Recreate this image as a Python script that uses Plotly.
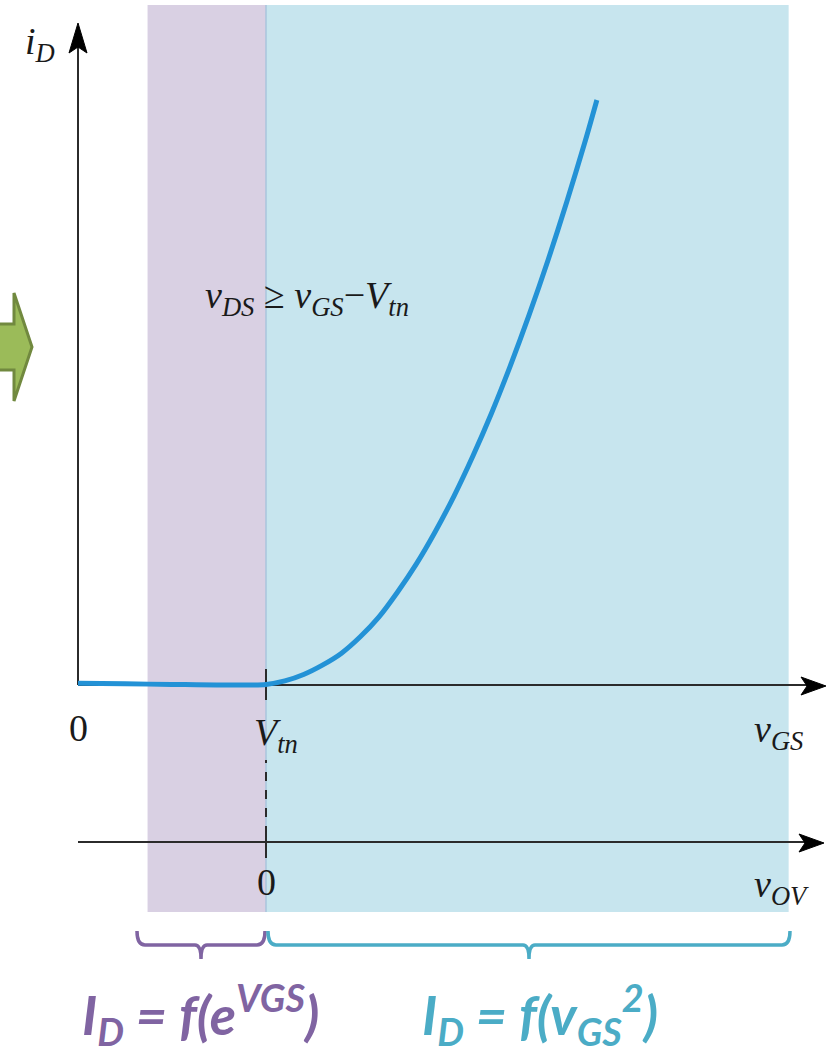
import plotly.graph_objects as go

# Transfer characteristic of an n-channel MOSFET in saturation
v_gs = [0.0, 0.25, 0.5, 0.75, 1.0, 1.1, 1.2, 1.3, 1.4, 1.5, 1.6, 1.7, 1.8, 1.9, 2.0, 2.1, 2.2, 2.3, 2.4, 2.5, 2.6, 2.7, 2.76]
i_d = [0.003, 0.002, 0.001, 0.0, 0.001, 0.007, 0.018, 0.034, 0.054, 0.082, 0.116, 0.159, 0.207, 0.262, 0.323, 0.391, 0.465, 0.546, 0.633, 0.726, 0.826, 0.932, 1.0]

V_TN = 1.0
subthreshold_span = [0.37, 1.0]   # weak-inversion band (v_GS)
square_law_span = [1.0, 3.78]     # strong-inversion band (v_GS)

W, H = 839, 1054
X0_PX, Y0_PX = 78, 685            # origin of the i_D / v_GS axes
SX, SY = 188.0, 585.0             # pixels per unit


def X(px):
    return (px - X0_PX) / SX


def Y(py):
    return (Y0_PX - py) / SY


AXIS = "#2b2b2b"
PURPLE_BG = "#d9d0e3"
BLUE_BG = "#c7e5ee"
PURPLE = "#8064a2"
TEAL = "#4bacc6"
CURVE = "#2392d6"
SERIF = "Liberation Serif, Times New Roman, serif"
SANS = "Lato, Open Sans, sans-serif"

fig = go.Figure()

fig.add_trace(go.Scatter(
    x=v_gs, y=i_d, mode="lines",
    line=dict(color=CURVE, width=5, shape="spline", smoothing=0.8),
    hoverinfo="skip", showlegend=False,
))

shapes = []
# operating regions
shapes.append(dict(type="rect", layer="below", x0=subthreshold_span[0], x1=subthreshold_span[1],
                   y0=Y(912), y1=Y(5), fillcolor=PURPLE_BG, line=dict(width=0)))
shapes.append(dict(type="rect", layer="below", x0=square_law_span[0], x1=square_law_span[1],
                   y0=Y(912), y1=Y(5), fillcolor=BLUE_BG, line=dict(width=0)))
shapes.append(dict(type="line", layer="below", x0=V_TN, x1=V_TN, y0=Y(912), y1=Y(5),
                   line=dict(color="#a8c4dc", width=1.5)))

# i_D axis
shapes.append(dict(type="line", layer="below", x0=0, x1=0, y0=0, y1=Y(45),
                   line=dict(color=AXIS, width=2)))
shapes.append(dict(type="path", layer="below",
                   path=f"M {X(78)},{Y(23)} L {X(87)},{Y(53)} L {X(78)},{Y(47)} L {X(69)},{Y(53)} Z",
                   fillcolor="black", line=dict(color="black", width=1)))
# v_GS axis
shapes.append(dict(type="line", layer="below", x0=0, x1=X(810), y0=0, y1=0,
                   line=dict(color=AXIS, width=2)))
shapes.append(dict(type="path", layer="below",
                   path=f"M {X(826)},{Y(686)} L {X(801)},{Y(677)} L {X(807)},{Y(686)} L {X(801)},{Y(695)} Z",
                   fillcolor="black", line=dict(color="black", width=1)))
# v_OV axis
shapes.append(dict(type="line", layer="below", x0=0, x1=X(810), y0=Y(842), y1=Y(842),
                   line=dict(color=AXIS, width=2)))
shapes.append(dict(type="path", layer="below",
                   path=f"M {X(824)},{Y(843)} L {X(799)},{Y(834)} L {X(805)},{Y(843)} L {X(799)},{Y(852)} Z",
                   fillcolor="black", line=dict(color="black", width=1)))
# threshold ticks and dashed link
shapes.append(dict(type="line", layer="below", x0=V_TN, x1=V_TN, y0=Y(700), y1=Y(669),
                   line=dict(color=AXIS, width=2)))
shapes.append(dict(type="line", layer="below", x0=V_TN, x1=V_TN, y0=Y(835), y1=Y(760),
                   line=dict(color=AXIS, width=2, dash="dash")))
shapes.append(dict(type="line", layer="below", x0=V_TN, x1=V_TN, y0=Y(858), y1=Y(830),
                   line=dict(color=AXIS, width=2)))

# green arrow at the left edge
shapes.append(dict(type="path", layer="below",
                   path=(f"M {X(-5)},{Y(324)} L {X(14)},{Y(324)} L {X(14)},{Y(293)} L {X(32)},{Y(347)} "
                         f"L {X(14)},{Y(401)} L {X(14)},{Y(370)} L {X(-5)},{Y(370)} Z"),
                   fillcolor="#9bbb59", line=dict(color="#71893f", width=3)))


def brace(x_left, x_right, color):
    xm = (x_left + x_right) / 2
    y_top, y_bar, y_tip = 931, 945, 959
    p = (f"M {X(x_left)},{Y(y_top)} Q {X(x_left)},{Y(y_bar)} {X(x_left + 8)},{Y(y_bar)} "
         f"L {X(xm - 6)},{Y(y_bar)} Q {X(xm)},{Y(y_bar)} {X(xm)},{Y(y_tip)} "
         f"Q {X(xm)},{Y(y_bar)} {X(xm + 6)},{Y(y_bar)} "
         f"L {X(x_right - 8)},{Y(y_bar)} Q {X(x_right)},{Y(y_bar)} {X(x_right)},{Y(y_top)}")
    return dict(type="path", path=p, line=dict(color=color, width=3.5))


shapes.append(brace(137, 265, PURPLE))
shapes.append(brace(268, 790, TEAL))

annotations = []


def label(px, py, text, size=38, color="#1a1a1a", xanchor="center", yanchor="middle", family=SERIF):
    annotations.append(dict(x=X(px), y=Y(py), text=text, showarrow=False, xanchor=xanchor,
                            yanchor=yanchor, font=dict(family=family, size=size, color=color)))


label(23, 44, "<i>i</i><sub><i>D</i></sub>", xanchor="left")
label(78, 728, "0")
label(252, 735, "<i>V</i><sub><i>tn</i></sub>", xanchor="left")
label(752, 732, "<i>v</i><sub><i>GS</i></sub>", xanchor="left")
label(266, 882, "0")
label(752, 887, "<i>v</i><sub><i>OV</i></sub>", xanchor="left")
label(203, 298, "<i>v</i><sub><i>DS</i></sub> \u2265 <i>v</i><sub><i>GS</i></sub>\u2212<i>V</i><sub><i>tn</i></sub>",
      size=38, xanchor="left")

label(80, 1014, "<b><i>I<sub>D</sub> = f(e<sup>VGS</sup>)</i></b>", size=54, color=PURPLE,
      xanchor="left", family=SANS)
label(420, 1014, "<b><i>I<sub>D</sub> = f(v<sub>GS</sub><sup>2</sup>)</i></b>", size=54, color=TEAL,
      xanchor="left", family=SANS)

fig.update_layout(
    width=W, height=H,
    margin=dict(l=0, r=0, t=0, b=0),
    paper_bgcolor="white", plot_bgcolor="white",
    xaxis=dict(range=[X(0), X(W)], visible=False, fixedrange=True),
    yaxis=dict(range=[Y(H), Y(0)], visible=False, fixedrange=True),
    shapes=shapes, annotations=annotations,
    showlegend=False,
)

fig.write_html("out.html")
